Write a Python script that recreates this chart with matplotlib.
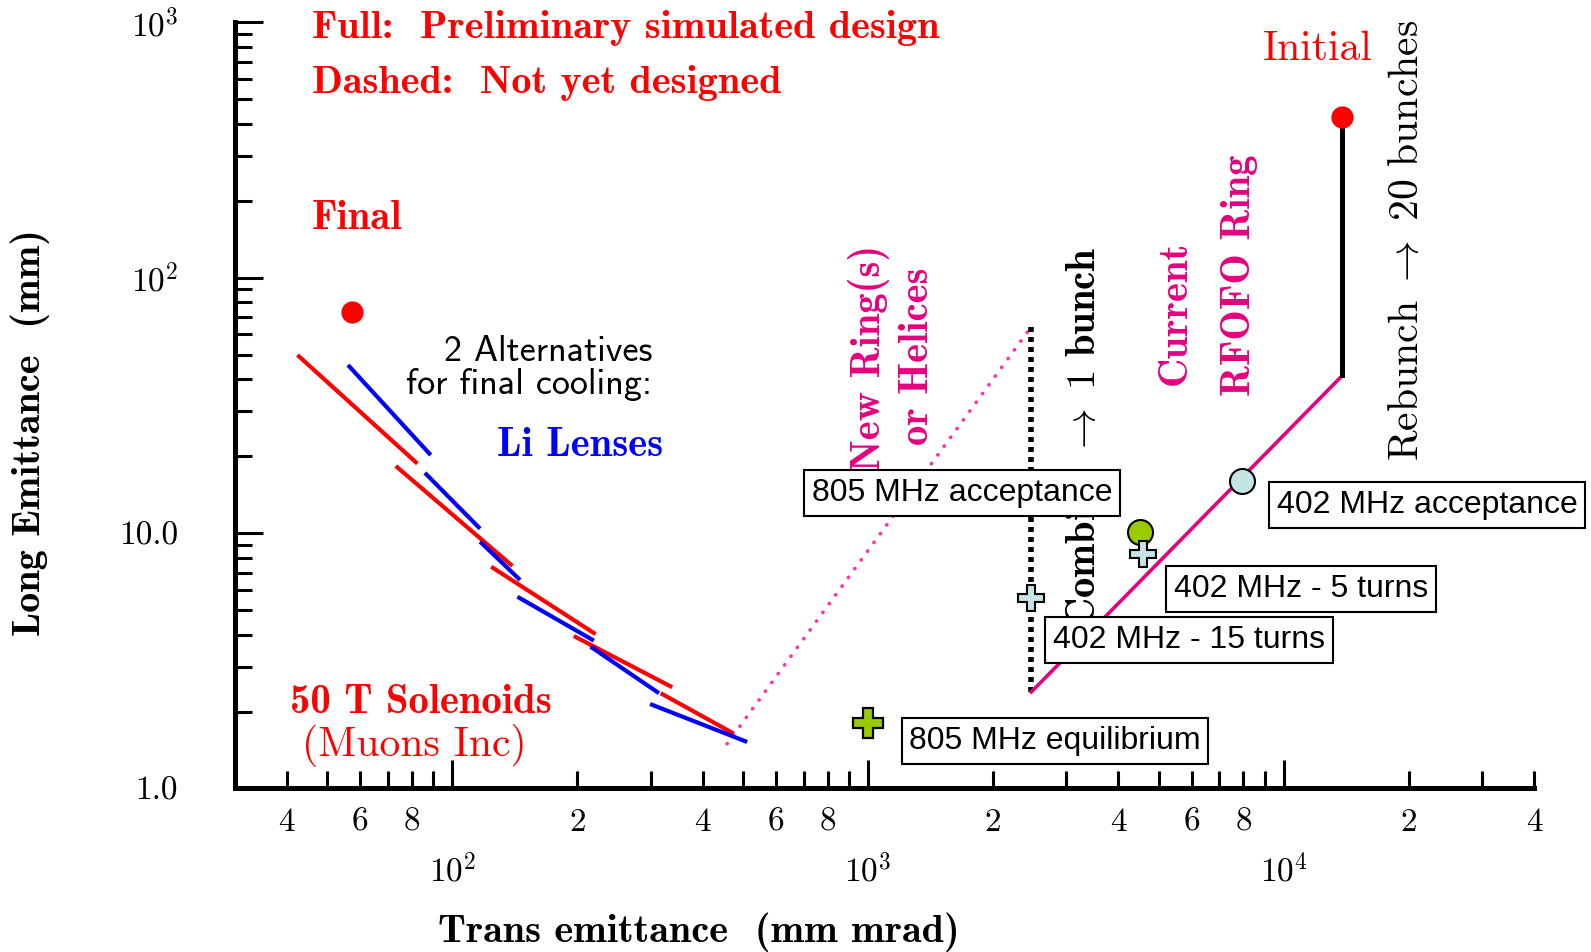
import matplotlib.pyplot as plt

plt.rcParams['mathtext.fontset'] = 'cm'
plt.rcParams['axes.unicode_minus'] = False

# 50 T solenoid stages (red) and Li lens stages (blue), one [start, end] per stage
sol_x = [[42.4, 82.4], [73.1, 139.5], [124.0, 221.0], [196.0, 338.0], [317.0, 475.0]]
sol_y = [[49.8, 18.7], [18.3, 7.43], [7.38, 4.02], [3.95, 2.49], [2.36, 1.64]]
li_x = [[56.1, 88.7], [85.9, 116.6], [116.6, 145.5], [143.4, 219.0], [215.0, 314.0], [299.0, 512.0]]
li_y = [[45.5, 20.2], [17.2, 10.4], [9.25, 6.55], [5.63, 3.79], [3.59, 2.36], [2.14, 1.52]]

final_pt = (57.4, 73.7)
initial_pt = (13840.0, 426.0)

rebunch_x = [13840.0, 13840.0]
rebunch_y = [426.0, 41.4]
rfofo_x = [2470.0, 13840.0]
rfofo_y = [2.385, 41.4]
combine_x = [2470.0, 2470.0]
combine_y = [2.385, 64.2]
newring_x = [458.0, 2470.0]
newring_y = [1.495, 64.2]

# simulated points
eq805 = (1000.0, 1.80)
acc805 = (4504.0, 10.1)
t15_402 = (2470.0, 5.58)
t5_402 = (4581.0, 8.27)
acc402 = (7943.0, 16.0)

xmajor = [100, 1000, 10000]
xmajor_labels = ['$10^2$', '$10^3$', '$10^4$']
ymajor = [1, 10, 100, 1000]
ymajor_labels = ['1.0', '10.0', '$10^2$', '$10^3$']

RED = '#ff0000'
BLUE = '#0000ff'
PINK = '#e6007e'
LPINK = '#ff30a8'
GREEN = '#99cc00'
LBLUE = '#c6e3e6'

W, H = 1591, 952
fig = plt.figure(figsize=(W / 100, H / 100), dpi=100)
ax = fig.add_axes([235 / W, 1 - 788.4 / H, (1534 - 235) / W, (788.4 - 22.3) / H])
ax.set_xscale('log')
ax.set_yscale('log')
ax.set_xlim(30, 40000)
ax.set_ylim(1, 1000)

for s in ('top', 'right'):
    ax.spines[s].set_visible(False)
for s in ('left', 'bottom'):
    ax.spines[s].set_linewidth(3.6)
    ax.spines[s].set_capstyle('projecting')

# ticks
xminor = [m * 10 ** e for e in (1, 2, 3, 4) for m in range(2, 10) if 30 <= m * 10 ** e <= 40000]
xminor_labels = [str(int(str(int(v))[0])) for v in xminor]
xminor_labels = [l if l in ('2', '4', '6', '8') else '' for l in xminor_labels]
ax.set_xticks(xmajor, xmajor_labels, fontsize=24)
ax.set_xticks(xminor, xminor_labels, minor=True, fontsize=24, fontfamily='cmr10')
yminor = [m * 10 ** e for e in (0, 1, 2) for m in range(2, 10)]
ax.set_yticks(ymajor, ymajor_labels, fontsize=24, fontfamily='cmr10')
ax.set_yticks(yminor, [''] * len(yminor), minor=True)
ax.tick_params(axis='x', which='major', direction='in', length=20, width=2.2, pad=47)
ax.tick_params(axis='x', which='minor', direction='in', length=12, width=2.2, pad=14)
ax.tick_params(axis='y', which='major', direction='in', length=20, width=2.2, pad=41)
ax.tick_params(axis='y', which='minor', direction='in', length=12, width=2.2)

# cooling stages
for xs, ys in zip(sol_x, sol_y):
    ax.plot(xs, ys, color=RED, lw=3.0, solid_capstyle='butt', zorder=3)
for xs, ys in zip(li_x, li_y):
    ax.plot(xs, ys, color=BLUE, lw=3.0, solid_capstyle='butt', zorder=3)

ax.plot(newring_x, newring_y, color=LPINK, lw=2.6, linestyle=(0, (0.1, 2.9)),
        dash_capstyle='round', zorder=2)
ax.plot(combine_x, combine_y, color='black', lw=4.0, linestyle=(0, (0.9, 0.9)),
        dash_capstyle='butt', zorder=2)
ax.plot(rfofo_x, rfofo_y, color=PINK, lw=2.6, zorder=3)
ax.plot(rebunch_x, rebunch_y, color='black', lw=3.6, zorder=3)

ax.plot(*final_pt, 'o', color=RED, ms=16, mec='none', zorder=4)
ax.plot(*initial_pt, 'o', color=RED, ms=16, mec='none', zorder=4)

ax.plot(*eq805, 'P', color=GREEN, ms=22, mec='black', mew=1.6, zorder=5)
ax.plot(*acc805, 'o', color=GREEN, ms=18, mec='black', mew=1.5, zorder=5)
ax.plot(*t15_402, 'P', color=LBLUE, ms=19, mec='black', mew=1.5, zorder=6)
ax.plot(*t5_402, 'P', color=LBLUE, ms=19, mec='black', mew=1.5, zorder=6)
ax.plot(*acc402, 'o', color=LBLUE, ms=18, mec='black', mew=1.5, zorder=5)


def fx(x):
    return x / W


def fy(y):
    return 1 - y / H


# annotations
BF = 29.3
RM = 30
fig.text(fx(312), fy(37.5), 'Full:  Preliminary simulated design', color=RED,
         fontfamily='cmb10', fontsize=29, va='baseline')
fig.text(fx(312), fy(93.4), 'Dashed:  Not yet designed', color=RED,
         fontfamily='cmb10', fontsize=29, va='baseline')
fig.text(fx(312), fy(229), 'Final', color=RED, fontfamily='cmb10', fontsize=BF, va='baseline')
fig.text(fx(1263), fy(60), 'Initial', color=RED, fontfamily='cmr10', fontsize=RM, va='baseline')
fig.text(fx(652), fy(361), '2 Alternatives', fontfamily='cmss10', fontsize=26,
         ha='right', va='baseline')
fig.text(fx(652), fy(394), 'for final cooling:', fontfamily='cmss10', fontsize=26,
         ha='right', va='baseline')
fig.text(fx(497), fy(455.6), 'Li Lenses', color=BLUE, fontfamily='cmb10', fontsize=BF,
         va='baseline')
fig.text(fx(290), fy(713), '50 T Solenoids', color=RED, fontfamily='cmb10', fontsize=BF,
         va='baseline')
fig.text(fx(302), fy(756), '(Muons Inc)', color=RED, fontfamily='cmr10', fontsize=RM,
         va='baseline')

fig.text(fx(869), fy(358), 'New Ring(s)', color=PINK, fontfamily='cmb10', fontsize=BF,
         rotation=90, ha='center', va='center')
fig.text(fx(917), fy(356), 'or Helices', color=PINK, fontfamily='cmb10', fontsize=BF,
         rotation=90, ha='center', va='center')
fig.text(fx(1084), fy(437), r'$\mathbf{Combine}\ \rightarrow\ \mathbf{1\ bunch}$',
         fontsize=BF, rotation=90, ha='center', va='center')
fig.text(fx(1175), fy(313), 'Current', color=PINK, fontfamily='cmb10', fontsize=BF,
         rotation=90, ha='center', va='center')
fig.text(fx(1239), fy(275), 'RFOFO Ring', color=PINK, fontfamily='cmb10', fontsize=BF,
         rotation=90, ha='center', va='center')
fig.text(fx(1406), fy(240), r'$\mathrm{Rebunch}\ \rightarrow\ \mathrm{20\ bunches}$',
         fontsize=RM, rotation=90, ha='center', va='center')

box = dict(boxstyle='square,pad=0.24', fc='white', ec='black', lw=1.5)
for label, cx, cy in [('805 MHz acceptance', 962, 493),
                      ('402 MHz acceptance', 1427, 505),
                      ('402 MHz - 5 turns', 1301, 589),
                      ('402 MHz - 15 turns', 1189, 640),
                      ('805 MHz equilibrium', 1055, 741)]:
    fig.text(fx(cx), fy(cy), label, fontfamily='Liberation Sans', fontsize=23,
             ha='center', va='center', bbox=box, zorder=10)

fig.text(fx(438), fy(941.6), 'Trans emittance  (mm mrad)', fontfamily='cmb10', fontsize=29,
         va='baseline')
fig.text(fx(30.4), fy(433), 'Long Emittance  (mm)', fontfamily='cmb10', fontsize=29,
         rotation=90, ha='center', va='center')

fig.savefig('out.png', dpi=100)
